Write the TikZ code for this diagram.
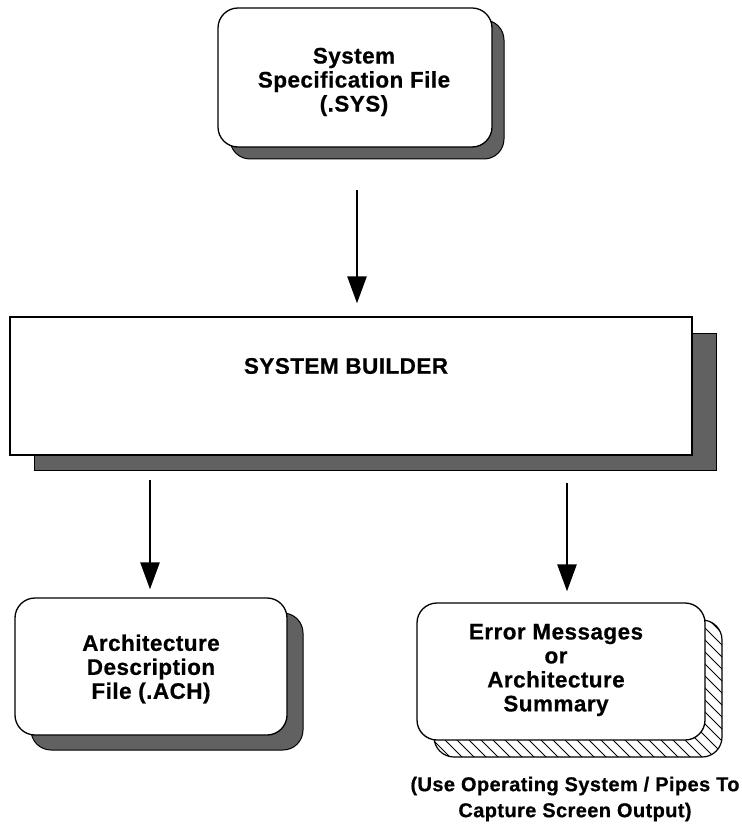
\documentclass[tikz,border=0pt]{standalone}
\usepackage{fontspec}
\setmainfont{Liberation Sans}
\newfontfamily\boxfont[LetterSpace=2,FakeBold=0.6]{Liberation Sans}
\usetikzlibrary{arrows.meta}
\begin{document}
\begin{tikzpicture}[x=1pt,y=-1pt,
  box/.style={draw, line width=1.3pt, fill=white, rounded corners=20pt, inner sep=0pt},
  flatbox/.style={draw, line width=1.3pt, fill=white, inner sep=0pt},
  shade/.style={draw, line width=1pt, fill=black!62},
  hatchshade/.style={draw, line width=1.2pt},
  lbl/.style={font=\boxfont\bfseries\fontsize{22.5}{24}\selectfont, align=center, inner sep=0pt},
  captiontext/.style={font=\boxfont\bfseries\fontsize{20}{26}\selectfont, align=center, inner sep=0pt},
  arr/.style={-{Triangle[length=27pt,width=19pt]}, line width=2.6pt}]
\useasboundingbox (0,0) rectangle (741,826);
% shadows
\draw[shade, rounded corners=20pt] (230,20) rectangle (504,159);
\draw[shade] (34,333) rectangle (716,470);
\draw[shade, rounded corners=20pt] (31,613) rectangle (303,750);
\begin{scope}
\clip[rounded corners=20pt] (434,620) rectangle (722,757);
\foreach \i in {-220,-208,...,320} \draw[line width=0.8pt] (417+\i,600) -- ++(180,180);
\end{scope}
\draw[hatchshade, rounded corners=20pt] (434,620) rectangle (722,757);
% boxes
\node[box, minimum width=274pt, minimum height=139pt] (sys) at (355,77.5) {};
\node[lbl] (syst) at (354,82) {System\\Specification File\\(.SYS)};
\node[flatbox, minimum width=682pt, minimum height=138pt] (sb) at (351,386) {};
\node[lbl, font=\boxfont\bfseries\fontsize{22.5}{24}\selectfont] (sbt) at (346,366) {SYSTEM BUILDER};
\node[box, minimum width=272pt, minimum height=137pt] (ach) at (151,666.5) {};
\node[lbl] (acht) at (151,669) {Architecture\\Description\\File (.ACH)};
\node[box, minimum width=288pt, minimum height=137pt] (err) at (561,671.5) {};
\node[lbl] (errt) at (556,670) {Error Messages\\or\\Architecture\\Summary};
\node[captiontext] (capt) at (575,799) {(Use Operating System / Pipes To\\Capture Screen Output)};
% arrows
\coordinate (a1) at (357,190);
\coordinate (a2) at (150,480);
\coordinate (a3) at (567,483);
\draw[arr] (a1) -- ([yshift=13pt]a1 |- sb.north);
\draw[arr] (a2) -- ([yshift=8pt]a2 |- ach.north);
\draw[arr] (a3) -- ([yshift=11pt]a3 |- err.north);
\end{tikzpicture}
\end{document}
